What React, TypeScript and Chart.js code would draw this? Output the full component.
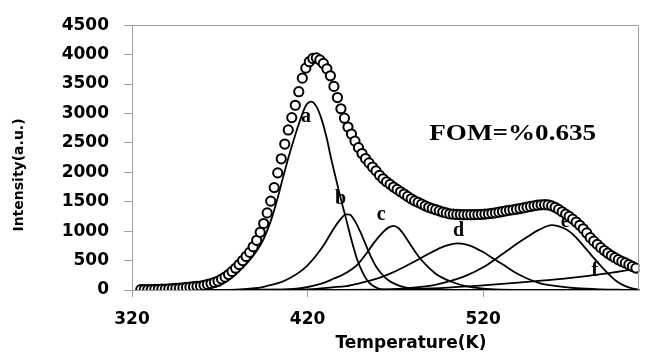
import React, { useEffect, useRef } from "react";
import { Chart, registerables } from "chart.js";

Chart.register(...registerables);

// Experimental glow curve (open circles)
const expT = [
  325, 327, 329, 331, 333, 335, 337, 339, 341, 343,
  345, 347, 349, 351, 353, 355, 357, 359, 361, 363,
  365, 367, 369, 371, 373, 375, 377, 379, 381, 383,
  385, 387, 389, 391, 393, 395, 397, 399, 401, 403,
  405, 407, 409, 411, 413, 415, 417, 419, 421, 423,
  425, 427, 429, 431, 433, 435, 437, 439, 441, 443,
  445, 447, 449, 451, 453, 455, 457, 459, 461, 463,
  465, 467, 469, 471, 473, 475, 477, 479, 481, 483,
  485, 487, 489, 491, 493, 495, 497, 499, 501, 503,
  505, 507, 509, 511, 513, 515, 517, 519, 521, 523,
  525, 527, 529, 531, 533, 535, 537, 539, 541, 543,
  545, 547, 549, 551, 553, 555, 557, 559, 561, 563,
  565, 567, 569, 571, 573, 575, 577, 579, 581, 583,
  585, 587, 589, 591, 593, 595, 597, 599, 601, 603,
  605, 607,
];
const expI = [
  5, 6, 7, 8, 10, 12, 14, 17, 20, 24,
  28, 33, 38, 44, 50, 56, 62, 68, 80, 95,
  110, 128, 150, 185, 220, 262, 315, 370, 432, 500,
  570, 640, 735, 845, 980, 1130, 1310, 1510, 1740, 1990,
  2230, 2480, 2720, 2930, 3140, 3370, 3600, 3770, 3880, 3935,
  3945, 3910, 3850, 3760, 3640, 3460, 3270, 3080, 2920, 2770,
  2650, 2530, 2420, 2320, 2235, 2160, 2090, 2025, 1950, 1890,
  1840, 1795, 1750, 1710, 1670, 1630, 1590, 1550, 1515, 1490,
  1460, 1430, 1405, 1385, 1365, 1345, 1325, 1310, 1295, 1288,
  1284, 1282, 1280, 1280, 1280, 1281, 1283, 1286, 1290, 1296,
  1303, 1312, 1322, 1333, 1345, 1355, 1364, 1373, 1384, 1396,
  1408, 1420, 1432, 1442, 1448, 1450, 1445, 1430, 1405, 1370,
  1330, 1290, 1250, 1205, 1155, 1100, 1040, 970, 890, 830,
  775, 720, 670, 625, 585, 550, 515, 485, 460, 430,
  400, 372,
];

// Deconvoluted components a..f
const aT = [355, 365, 370, 375, 380, 385, 390, 395, 400, 403, 406, 409, 412, 415, 419, 422, 425, 428, 431, 433, 436, 439, 442, 445, 448, 451, 454, 457, 460, 464, 470, 609];
const aI = [0, 40, 80, 170, 290, 440, 620, 870, 1260, 1570, 1910, 2240, 2540, 2820, 3130, 3200, 3120, 2900, 2570, 2290, 1910, 1540, 1200, 850, 540, 320, 160, 75, 30, 5, 0, 0];

const bT = [360, 380, 390, 395, 400, 405, 410, 415, 420, 425, 430, 434, 438, 442, 444, 447, 450, 453, 456, 459, 462, 466, 470, 475, 482, 492, 505, 609];
const bI = [0, 8, 30, 55, 90, 135, 205, 295, 420, 590, 800, 1000, 1175, 1285, 1280, 1170, 990, 780, 570, 400, 280, 165, 100, 50, 20, 5, 0, 0];

const cT = [360, 400, 410, 416, 423, 430, 435, 440, 445, 449, 453, 458, 463, 466, 469, 472, 475, 479, 482, 485, 489, 494, 502, 510, 520, 530, 545, 609];
const cI = [0, 5, 15, 30, 70, 130, 195, 260, 350, 450, 600, 810, 985, 1060, 1090, 1045, 935, 750, 620, 505, 380, 255, 140, 65, 25, 8, 0, 0];

const dT = [360, 410, 420, 425, 434, 442, 449, 454, 460, 468, 475, 482, 489, 496, 501, 506, 512, 520, 526, 532, 538, 545, 553, 562, 573, 587, 600, 609];
const dI = [0, 5, 12, 20, 45, 67, 110, 150, 196, 290, 390, 500, 615, 720, 770, 794, 760, 645, 530, 420, 300, 196, 110, 67, 30, 10, 3, 0];

const eT = [360, 450, 465, 472, 482, 492, 501, 511, 520, 530, 537, 545, 552, 559, 566, 570, 573, 577, 580, 583, 587, 592, 596, 601, 606, 609];
const eI = [0, 3, 8, 20, 45, 84, 150, 252, 385, 590, 740, 900, 1025, 1103, 1050, 975, 890, 755, 650, 545, 410, 255, 150, 67, 20, 8];

const fT = [360, 440, 460, 480, 500, 520, 540, 550, 565, 580, 590, 597, 603, 609];
const fI = [0, 1, 5, 18, 42, 80, 125, 150, 190, 240, 280, 310, 336, 350];

const xTicks = [320, 420, 520];
const peakNames = ["a", "b", "c", "d", "e", "f"];
const peakLabelT = [419.1, 438.8, 462.0, 506.0, 566.7, 583.6];
const peakLabelI = [2935, 1543, 1275, 1006, 1165, 319];
const fomText = "FOM=%0.635";
const fomT = 489.3;
const fomI = 2658;

const xTitle = "Temperature(K)";
const yTitle = "Intensity(a.u.)";

const GRAY = "#a0a0a0";

function pts(t: number[], v: number[]) {
  return t.map((x, i) => ({ x, y: v[i] }));
}

export default function App() {
  const ref = useRef<HTMLCanvasElement | null>(null);

  useEffect(() => {
    document.body.style.margin = "0";
    const canvas = ref.current;
    if (!canvas) return;

    const drawLabel = (chart: any, i: number) => {
      const ctx = chart.ctx;
      const xs = chart.scales.x;
      const ys = chart.scales.y;
      ctx.save();
      ctx.fillStyle = "#000";
      ctx.font = 'bold 20px "Liberation Serif"';
      ctx.textAlign = "center";
      ctx.textBaseline = "middle";
      ctx.fillText(peakNames[i], xs.getPixelForValue(peakLabelT[i]), ys.getPixelForValue(peakLabelI[i]));
      ctx.restore();
    };

    const overlay = {
      id: "overlay",
      beforeDatasetsDraw(chart: any) {
        drawLabel(chart, 4);
      },
      afterDatasetsDraw(chart: any) {
        [0, 1, 2, 3, 5].forEach((i) => drawLabel(chart, i));
        const ctx = chart.ctx;
        const xs = chart.scales.x;
        const ys = chart.scales.y;
        const a = chart.chartArea;
        // FOM annotation
        ctx.save();
        ctx.fillStyle = "#000";
        ctx.font = 'bold 24px "Liberation Serif"';
        ctx.textAlign = "left";
        ctx.textBaseline = "middle";
        ctx.translate(xs.getPixelForValue(fomT), ys.getPixelForValue(fomI));
        ctx.scale(1.13, 1);
        ctx.fillText(fomText, 0, 0);
        ctx.restore();
        // top and right frame
        ctx.save();
        ctx.strokeStyle = GRAY;
        ctx.lineWidth = 1;
        ctx.beginPath();
        ctx.moveTo(Math.round(a.left), Math.round(a.top) + 0.5);
        ctx.lineTo(Math.round(a.right) - 0.5, Math.round(a.top) + 0.5);
        ctx.lineTo(Math.round(a.right) - 0.5, Math.round(a.bottom));
        ctx.stroke();
        ctx.restore();
      },
      afterDraw(chart: any) {
        const ctx = chart.ctx;
        ctx.save();
        ctx.fillStyle = "#000";
        ctx.font = 'bold 17px "DejaVu Sans"';
        ctx.textAlign = "center";
        ctx.textBaseline = "middle";
        ctx.fillText(xTitle, 411, 344);
        ctx.translate(19.5, 175);
        ctx.rotate(-Math.PI / 2);
        ctx.font = 'bold 14px "DejaVu Sans"';
        ctx.fillText(yTitle, 0, 0);
        ctx.restore();
      },
    };

    const comp = (t: number[], v: number[]) => ({
      data: pts(t, v),
      showLine: true,
      borderColor: "#000",
      borderWidth: 1.8,
      pointRadius: 0,
      cubicInterpolationMode: "monotone" as const,
      fill: false,
      order: 1,
    });

    const tickFont = { family: "DejaVu Sans", weight: "bold" as const, size: 17 };

    const chart = new Chart(canvas, {
      type: "scatter",
      data: {
        datasets: [
          {
            data: pts(expT, expI),
            showLine: false,
            pointRadius: 4.6,
            pointBorderWidth: 2,
            pointBorderColor: "#000",
            pointBackgroundColor: "#fff",
            order: 0,
          } as any,
          comp(aT, aI),
          comp(bT, bI),
          comp(cT, cI),
          comp(dT, dI),
          comp(eT, eI),
          comp(fT, fI),
        ],
      },
      options: {
        animation: false,
        responsive: false,
        maintainAspectRatio: false,
        layout: { padding: { left: 0, right: 2, top: 21, bottom: 0 } },
        plugins: { legend: { display: false }, tooltip: { enabled: false } },
        scales: {
          x: {
            type: "linear",
            min: 320,
            max: 609,
            afterBuildTicks: (s: any) => {
              s.ticks = xTicks.map((v) => ({ value: v }));
            },
            afterFit: (s: any) => {
              s.height = 62;
            },
            grid: { drawOnChartArea: false, drawTicks: true, tickLength: 7, color: GRAY },
            border: { display: true, color: GRAY, width: 1 },
            ticks: {
              font: tickFont,
              color: "#000",
              padding: 12,
              maxRotation: 0,
              autoSkip: false,
              callback: (v: any) => String(v),
            },
          },
          y: {
            type: "linear",
            min: 0,
            max: 4500,
            afterFit: (s: any) => {
              s.width = 132;
            },
            grid: { drawOnChartArea: false, drawTicks: true, tickLength: 8, color: GRAY },
            border: { display: true, color: GRAY, width: 1 },
            ticks: {
              stepSize: 500,
              font: tickFont,
              color: "#000",
              padding: 15,
              callback: (v: any) => String(v),
            },
          },
        },
      },
      plugins: [overlay],
    });

    return () => chart.destroy();
  }, []);

  return (
    <div style={{ width: 646, height: 352 }}>
      <canvas ref={ref} width={646} height={352} style={{ display: "block" }} />
    </div>
  );
}
